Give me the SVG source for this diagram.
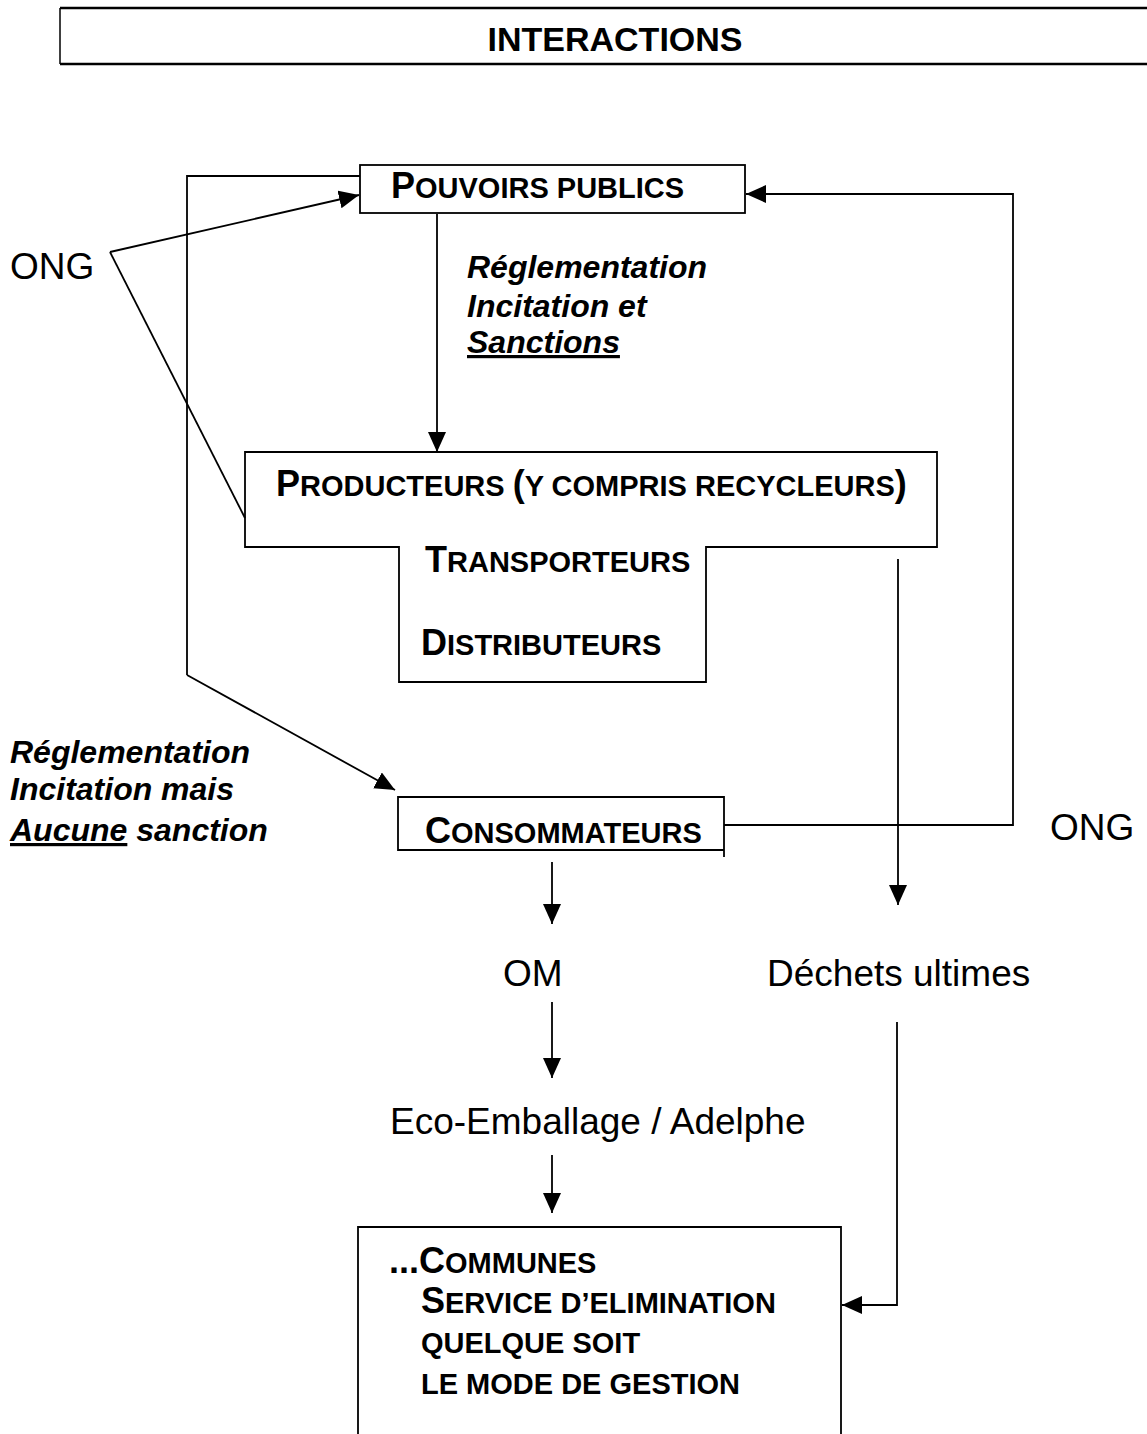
<svg xmlns="http://www.w3.org/2000/svg" width="1147" height="1434" viewBox="0 0 1147 1434">
<defs>
<style>
text{font-family:"Liberation Sans",Arial,sans-serif;fill:#000}
.b{font-weight:bold;font-size:36px}
.sc{font-size:29px}
.r{font-size:37px}
.it{font-weight:bold;font-style:italic;font-size:32px}
.box{fill:none;stroke:#000;stroke-width:1.8}
.ln{fill:none;stroke:#000;stroke-width:1.8}
.ar{fill:none;stroke:#000;stroke-width:1.8;marker-end:url(#ah)}
</style>
<marker id="ah" markerUnits="userSpaceOnUse" markerWidth="22" markerHeight="20" refX="20" refY="9" orient="auto">
<path d="M0,0 L20,9 L0,18 z" fill="#000"/>
</marker>
</defs>
<rect width="1147" height="1434" fill="#fff"/>

<g id="title">
<path d="M60,8 H1147 M60,64 H1147" stroke="#000" stroke-width="2.6" fill="none"/>
<path d="M60,8 V64" stroke="#000" stroke-width="1.5" fill="none"/>
<text x="615" y="51" text-anchor="middle" style="font-weight:bold;font-size:34px">INTERACTIONS</text>
</g>

<g id="connectors">
<path class="ln" d="M360,176 H187 V675"/>
<path class="ar" d="M187,675 L395,790"/>
<path class="ar" d="M110,252 L359,195"/>
<path class="ln" d="M110,252 L245,518"/>
<path class="ar" d="M437,214 V452"/>
<path class="ar" d="M724,825 H1013 V194 H746"/>
<path class="ar" d="M898,559 V905"/>
<path class="ar" d="M552,862 V924"/>
<path class="ar" d="M552,1002 V1078"/>
<path class="ar" d="M552,1155 V1213"/>
<path class="ar" d="M897,1022 V1305 H842"/>
</g>

<g id="pouvoirs-publics">
<rect class="box" x="360" y="165" width="385" height="48"/>
<text x="391" y="198" class="b">P<tspan class="sc">OUVOIRS PUBLICS</tspan></text>
</g>

<g id="reglementation-producteurs">
<text class="it" x="467" y="278">Réglementation</text>
<text class="it" x="467" y="317">Incitation et</text>
<text class="it" x="467" y="353"><tspan text-decoration="underline">Sanctions</tspan></text>
</g>

<g id="ong-left">
<text class="r" x="10" y="279">ONG</text>
</g>

<g id="producteurs">
<path class="box" d="M245,452 H937 V547 H706 V682 H399 V547 H245 Z"/>
<text x="276" y="496" class="b">P<tspan class="sc">RODUCTEURS </tspan>(<tspan class="sc">Y COMPRIS RECYCLEURS</tspan>)</text>
<text x="425" y="572" class="b">T<tspan class="sc">RANSPORTEURS</tspan></text>
<text x="421" y="655" class="b">D<tspan class="sc">ISTRIBUTEURS</tspan></text>
</g>

<g id="reglementation-consommateurs">
<text class="it" x="10" y="763">Réglementation</text>
<text class="it" x="10" y="800">Incitation mais</text>
<text class="it" x="10" y="841"><tspan text-decoration="underline">Aucune</tspan> sanction</text>
</g>

<g id="consommateurs">
<path class="box" d="M724,857 V797 H398 V850 H724"/>
<text x="425" y="843" class="b">C<tspan class="sc">ONSOMMATEURS</tspan></text>
</g>

<g id="ong-right">
<text class="r" x="1050" y="840">ONG</text>
</g>

<g id="om">
<text class="r" x="503" y="986">OM</text>
</g>

<g id="dechets-ultimes">
<text class="r" x="767" y="986">Déchets ultimes</text>
</g>

<g id="eco-emballage">
<text class="r" x="390" y="1134">Eco-Emballage / Adelphe</text>
</g>

<g id="communes">
<path class="box" d="M358,1434 V1227 H841 V1434"/>
<text x="389" y="1273" class="b">...C<tspan class="sc">OMMUNES</tspan></text>
<text x="421" y="1313" class="b">S<tspan class="sc">ERVICE D’ELIMINATION</tspan></text>
<text x="421" y="1353" class="b"><tspan class="sc">QUELQUE SOIT</tspan></text>
<text x="421" y="1394" class="b"><tspan class="sc">LE MODE DE GESTION</tspan></text>
</g>
</svg>
